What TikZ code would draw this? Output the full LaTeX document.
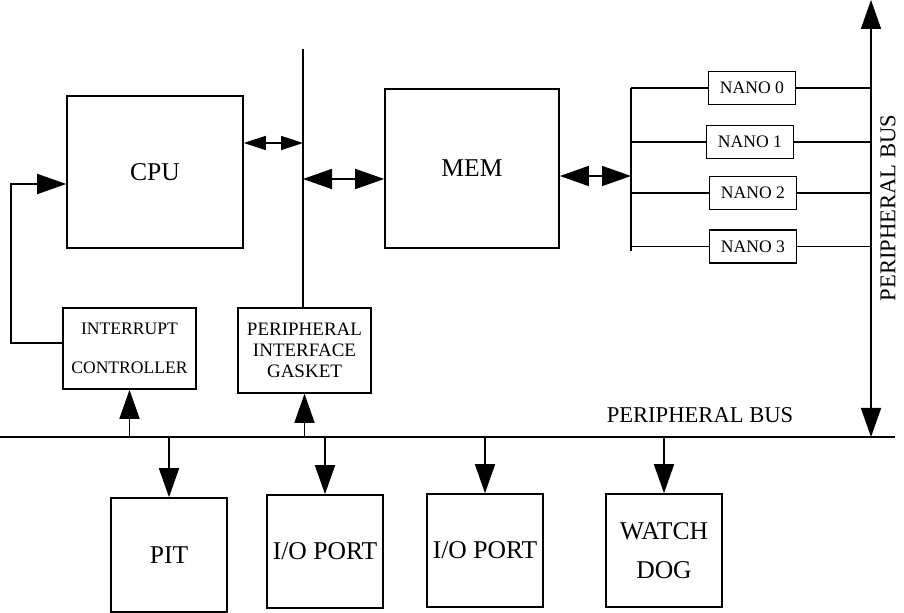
\documentclass[tikz,border=0pt]{standalone}
\usepackage{fontspec}
\setmainfont{Liberation Serif}
\usetikzlibrary{arrows.meta}

\begin{document}
\begin{tikzpicture}[x=0.5pt,y=-0.5pt,line width=0.8pt,
    box/.style={draw,inner sep=0pt,align=center},
    big/.style={font=\fontsize{12.8}{19.5}\selectfont},
    small/.style={font=\fontsize{8.8}{19.5}\selectfont},
    buslabel/.style={font=\fontsize{11.3}{13}\selectfont},
    arr/.style={-{Triangle[length=14.5pt,width=10pt]}},
    darr/.style={{Triangle[length=14.5pt,width=10pt]}-{Triangle[length=14.5pt,width=10pt]}},
    sdarr/.style={{Triangle[length=11pt,width=7pt]}-{Triangle[length=11pt,width=7pt]}}]
    \useasboundingbox (0,0) rectangle (904,613);
    % processor side
    \node[box,big,minimum width=88pt,minimum height=76pt] (cpu) at (155,172) {CPU};
    \node[box,big,minimum width=87pt,minimum height=79.5pt] (mem) at (472,168.5) {MEM};
    \node[box,small,minimum width=66.5pt,minimum height=40.5pt] (intc) at (129.5,348.5)
          {INTERRUPT\\CONTROLLER};
    \node[box,font=\fontsize{9.5}{10.5}\selectfont,minimum width=66.5pt,
          minimum height=42.5pt] (gasket) at (304.5,350.5) {PERIPHERAL\\INTERFACE\\GASKET};
    \foreach \i/\x/\y in {0/752/88,1/750/142,2/753/193,3/753/246.5}
        \node[box,small,minimum width=43.5pt,minimum height=16.5pt]
              (nano\i) at (\x,\y) {NANO \i};
    % peripherals
    \node[box,big,minimum width=58pt,minimum height=57pt] (pit) at (169,555) {PIT};
    \node[box,big,minimum width=58pt,minimum height=56.5pt] (io1) at (325,551.5) {I/O PORT};
    \node[box,big,minimum width=58pt,minimum height=56.5pt] (io2) at (485,550.5) {I/O PORT};
    \node[box,big,minimum width=58pt,minimum height=56.5pt] (wd) at (664,550.5) {WATCH\\DOG};
    % buses
    \coordinate (busL) at (0,437);
    \coordinate (busR) at (895,437);
    \coordinate (pbTop) at (871,0);
    \coordinate (pbBot) at (871,437);
    \coordinate (cbTop) at (303,49);
    \coordinate (nbTop) at (631,88);
    \coordinate (nbBot) at (631,251);
    \draw[line width=1pt] (busL) -- (busR);
    \draw[darr] (pbTop) -- (pbBot);
    \draw (cbTop) -- (cbTop |- gasket.north);
    \draw (nbTop) -- (nbBot);
    \node[buslabel] (pbus) at (700,415) {PERIPHERAL BUS};
    \node[buslabel,rotate=90] (pbusv) at (888,208) {PERIPHERAL BUS};
    % connections
    \draw[sdarr] ([yshift=14.5pt]cpu.east) -- ([yshift=14.5pt]cpu.east -| cbTop);
    \draw[darr] ([yshift=-5.25pt]mem.west -| cbTop) -- ([yshift=-5.25pt]mem.west);
    \draw[darr] ([yshift=-3.75pt]mem.east) -- ([yshift=-3.75pt]mem.east -| nbTop);
    \foreach \i in {0,...,3}{
        \draw (nano\i.west -| nbTop) -- (nano\i.west);
        \draw (nano\i.east) -- (nano\i.east -| pbTop);
    }
    \draw[arr] ([yshift=2.75pt]intc.west) -- ++(-51,0) |- ([yshift=-6pt]cpu.west);
    \draw[arr] (intc.south |- busL) -- (intc.south);
    \draw[arr] (gasket.south |- busL) -- (gasket.south);
    \foreach \n in {pit,io1,io2,wd}
        \draw[arr] (\n.north |- busL) -- (\n.north);
\end{tikzpicture}
\end{document}
